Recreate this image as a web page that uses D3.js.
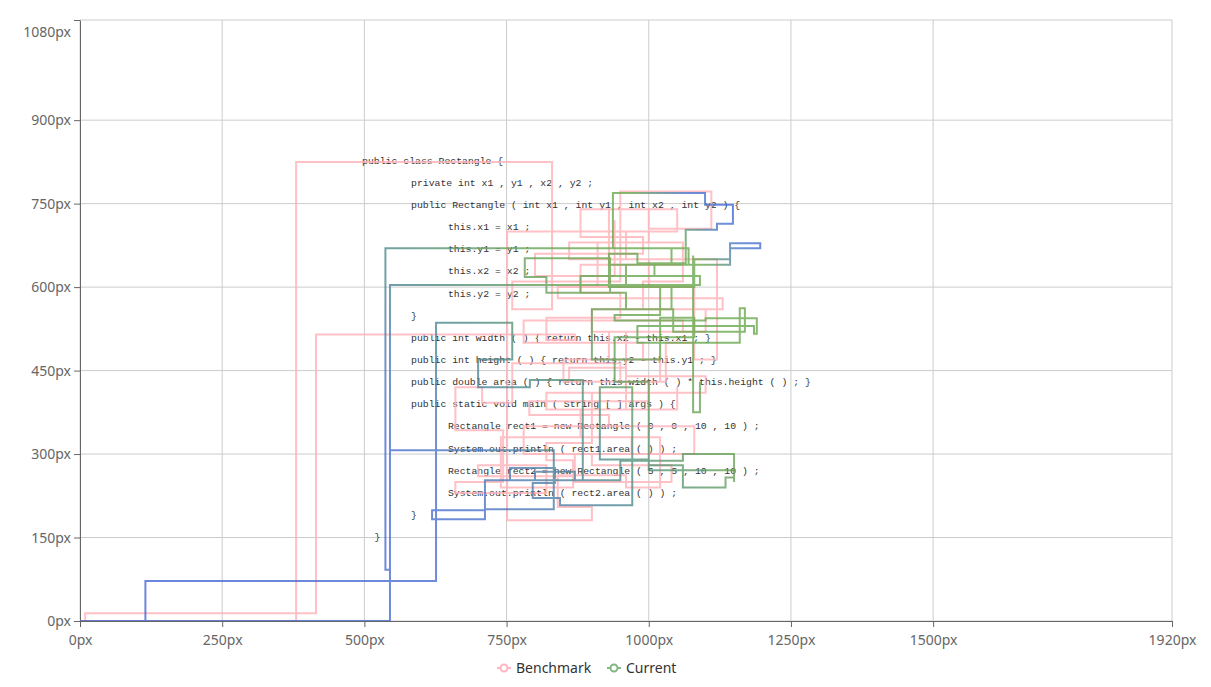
<!DOCTYPE html>
<html lang="en">

<head>
    <meta charset="UTF-8">
    <script src="https://d3js.org/d3.v7.min.js"></script>
    <title>Gaze</title>
    <style>
        body { margin: 0; background: #fff; }
    </style>
</head>

<body>
    <div id="container"></div>
    <script>
        const width = 1211, height = 687;

        const xTicks = [0, 250, 500, 750, 1000, 1250, 1500, 1920];
        const yTicks = [0, 150, 300, 450, 600, 750, 900, 1080];
        const seriesNames = ["Benchmark", "Current"];

        // gaze points, screen px (null = gap in the trace)
        const benchmark = [
            [0, 0], [9, 14], [415, 515], [870, 505], [820, 545], [950, 590], [880, 640], [1060, 610], [990, 560],
            [1100, 520], [930, 470], [1020, 430], [860, 455], [960, 380], [820, 410], [900, 330], [1000, 350],
            [780, 300], [870, 260], [700, 280], [820, 230], [660, 250], [744, 343], [660, 420], [707, 392],
            [760, 463], [950, 430], [1030, 500], [1080, 470], [1120, 650], [960, 700], [1050, 740], [880, 690],
            [990, 660], [800, 620], [940, 720],
            null,
            [0, 0], [380, 825], [830, 560], [760, 610], [950, 772], [1110, 705], [1000, 740], [930, 640],
            [1060, 680], [860, 650], [1000, 600], [840, 580], [1130, 560], [900, 520], [1060, 540], [780, 500],
            [990, 470], [850, 430], [1000, 395], [790, 370], [930, 350], [1080, 300], [900, 280], [1040, 250],
            [870, 300], [970, 330], [740, 240], [867, 289], [820, 320], [900, 410], [1100, 440], [960, 520],
            [1080, 600], [910, 680], [1000, 700], [751, 661], [751, 181], [900, 205], [840, 262], [960, 240],
            [1020, 330], [880, 380], [1050, 420]
        ];
        const current = [
            [0, 0], [115, 72], [626, 536], [760, 470], [700, 420], [791, 433], [884, 374], [884, 253],
            [756, 275], [835, 248], [796, 221], [844, 208], [971, 420], [914, 290], [1000, 271], [1150, 258],
            [1135, 240], [1060, 280], [1000, 430], [940, 510], [1080, 545], [1020, 470],
            [900, 560], [1040, 600], [960, 640], [1070, 670], [937, 769], [1099, 748], [1148, 714], [1120, 703],
            [1065, 643], [980, 660], [930, 600], [1080, 650], [1143, 679], [1196, 670], [1143, 640], [1010, 620],
            [880, 590], [960, 560], [1043, 520], [1169, 562], [1160, 500], [980, 530], [1185, 516], [1190, 544],
            [1100, 540], [940, 550], [1020, 600], [1078, 657], [1078, 375], [1090, 430],
            null,
            [0, 0], [545, 604], [1090, 620], [932, 652], [782, 618], [820, 590], [932, 640], [1040, 670],
            [537, 92], [545, 307], [833, 201], [712, 183], [619, 199], [712, 253], [800, 268], [870, 253],
            [950, 288], [1060, 300], [1150, 250]
        ];

        // code on screen
        const codeLines = [
            "public class Rectangle {",
            "private int x1 , y1 , x2 , y2 ;",
            "public Rectangle ( int x1 , int y1 , int x2 , int y2 ) {",
            "this.x1 = x1 ;",
            "this.y1 = y1 ;",
            "this.x2 = x2 ;",
            "this.y2 = y2 ;",
            "}",
            "public int width ( ) { return this.x2 - this.x1 ; }",
            "public int height ( ) { return this.y2 - this.y1 ; }",
            "public double area ( ) { return this.width ( ) * this.height ( ) ; }",
            "public static void main ( String [ ] args ) {",
            "Rectangle rect1 = new Rectangle ( 0 , 0 , 10 , 10 ) ;",
            "System.out.println ( rect1.area ( ) ) ;",
            "Rectangle rect2 = new Rectangle ( 5 , 5 , 10 , 10 ) ;",
            "System.out.println ( rect2.area ( ) ) ;",
            "}",
            "}"
        ];
        const codeX = [496, 582, 582, 647, 647, 647, 647, 582, 582, 582, 582, 582, 647, 647, 647, 647, 582, 518];
        const codeTop = 828, codeStep = 39.8;

        const svg = d3.select("#container")
            .append("svg")
            .attr("width", width)
            .attr("height", height)
            .style("font-family", "'Noto Sans', sans-serif");

        const x = d3.scaleLinear().domain([0, 1920]).range([80, 1172]);
        const y = d3.scaleLinear().domain([0, 1080]).range([621, 20]);

        // gradient for the current trace
        const grad = svg.append("defs")
            .append("linearGradient")
            .attr("id", "curGrad")
            .attr("gradientUnits", "userSpaceOnUse")
            .attr("x1", 0).attr("y1", 541)
            .attr("x2", 535).attr("y2", 6);
        [[0, "#4566d8"], [0.45, "#4a6fd0"], [0.56, "#4f7fa8"], [0.645, "#4f8c86"],
         [0.74, "#67a05c"], [0.82, "#6aa84f"], [0.915, "#6aa84f"], [0.965, "#4a78c8"], [1, "#4566d8"]]
            .forEach(s => grad.append("stop").attr("offset", s[0]).attr("stop-color", s[1]));

        // grid
        svg.append("g")
            .selectAll("line")
            .data(xTicks)
            .enter()
            .append("line")
            .attr("x1", d => x(d)).attr("x2", d => x(d))
            .attr("y1", y(1080)).attr("y2", y(0))
            .attr("stroke", "#ccc");
        svg.append("g")
            .selectAll("line")
            .data(yTicks)
            .enter()
            .append("line")
            .attr("x1", x(0)).attr("x2", x(1920))
            .attr("y1", d => y(d)).attr("y2", d => y(d))
            .attr("stroke", "#ccc");

        // code text
        svg.append("g")
            .attr("font-family", "'Liberation Mono', 'Courier New', monospace")
            .attr("font-size", 9.8)
            .attr("fill", "#333")
            .selectAll("text")
            .data(codeLines)
            .enter()
            .append("text")
            .attr("x", (d, i) => x(codeX[i]))
            .attr("y", (d, i) => y(codeTop - i * codeStep))
            .attr("dy", "0.35em")
            .attr("xml:space", "preserve")
            .text(d => d);

        const line = d3.line()
            .defined(d => d !== null)
            .x(d => x(d[0]))
            .y(d => y(d[1]))
            .curve(d3.curveStepAfter);

        svg.append("path")
            .attr("d", line(benchmark))
            .attr("fill", "none")
            .attr("stroke", "#ffb0b8")
            .attr("stroke-opacity", 0.8)
            .attr("stroke-width", 2);
        svg.append("path")
            .attr("d", line(current))
            .attr("fill", "none")
            .attr("stroke", "url(#curGrad)")
            .attr("stroke-opacity", 0.8)
            .attr("stroke-width", 2);

        // axes
        const ax = svg.append("g")
            .attr("transform", `translate(0,${y(0)})`)
            .call(d3.axisBottom(x).tickValues(xTicks).tickFormat(d => d + "px").tickSizeOuter(0));
        const ay = svg.append("g")
            .attr("transform", `translate(${x(0)},0)`)
            .call(d3.axisLeft(y).tickValues(yTicks).tickFormat(d => d + "px").tickSizeOuter(0));
        [ax, ay].forEach(a => {
            a.select(".domain").attr("stroke", "#666");
            a.selectAll(".tick line").attr("stroke", "#666");
            a.selectAll(".tick text").attr("fill", "#666").attr("font-size", 14)
                .style("font-family", "'Noto Sans', sans-serif");
        });
        ax.selectAll(".tick text").attr("dy", "1.05em");
        ay.selectAll(".tick text").filter(d => d === 1080).attr("dy", "1.2em");

        // legend
        const legendColors = ["#ffb6c1", "#82b882"];
        const lg = svg.append("g").attr("font-size", 14);
        const legendX = [497, 607];
        seriesNames.forEach((name, i) => {
            const g = lg.append("g").attr("transform", `translate(${legendX[i]},668)`);
            g.append("line").attr("x1", 0).attr("x2", 14)
                .attr("stroke", legendColors[i]).attr("stroke-width", 2);
            g.append("circle").attr("cx", 7).attr("r", 3.5)
                .attr("fill", "#fff").attr("stroke", legendColors[i]).attr("stroke-width", 2);
            g.append("text").attr("x", 19).attr("dy", "0.35em")
                .attr("fill", "#333").text(name);
        });
    </script>
</body>

</html>
